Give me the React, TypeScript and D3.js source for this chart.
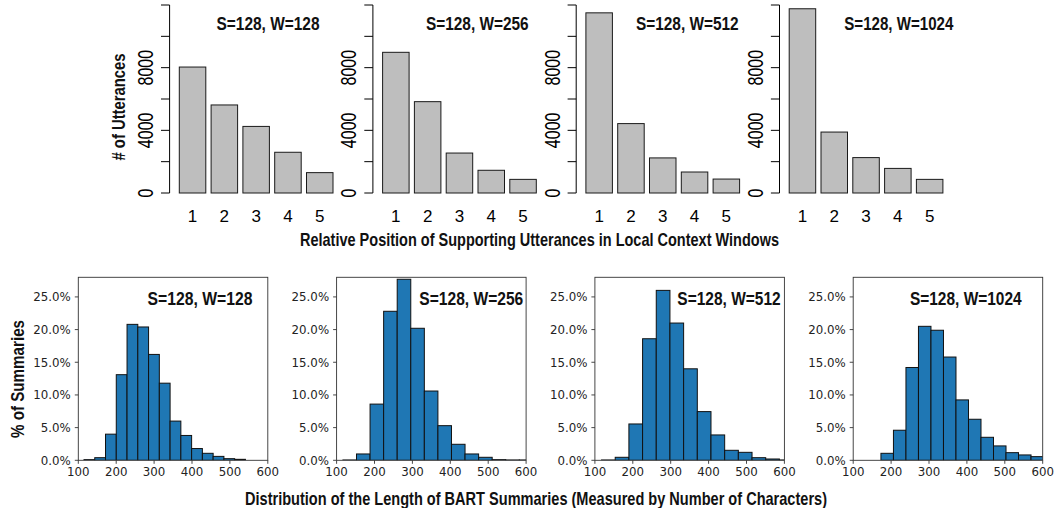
import React from "react";
import * as d3 from "d3";

// ---------- DATA ----------
const topCategories = [1, 2, 3, 4, 5];
const topTitles = ["S=128, W=128", "S=128, W=256", "S=128, W=512", "S=128, W=1024"];
const topW128 = [8040, 5620, 4250, 2600, 1300];
const topW256 = [8980, 5830, 2550, 1450, 870];
const topW512 = [11500, 4430, 2240, 1340, 890];
const topW1024 = [11760, 3890, 2260, 1570, 870];
const topYTicks = [0, 2000, 4000, 6000, 8000, 10000, 12000];
const topYTickLabels = [0, 4000, 8000];

const bottomTitles = ["S=128, W=128", "S=128, W=256", "S=128, W=512", "S=128, W=1024"];
const histStart = [115, 116.7, 117.5, 107.2];
const histWidth = [28.4, 35.8, 36.1, 33.0];
const histW128 = [0.1, 0.4, 4.0, 13.1, 20.8, 20.4, 16.2, 11.8, 6.0, 3.8, 1.8, 1.07, 0.6, 0.25, 0.15];
const histW256 = [0.05, 0.97, 8.6, 22.8, 27.7, 20.2, 10.6, 5.3, 2.45, 0.97, 0.46, 0.1, 0.05, 0.05];
const histW512 = [0.05, 0.46, 5.56, 18.6, 26.0, 21.0, 14.0, 7.45, 3.88, 1.53, 1.22, 0.4, 0.2, 0.05];
const histW1024 = [0, 0, 1.07, 4.6, 14.2, 20.5, 19.9, 15.8, 9.24, 6.28, 3.52, 2.2, 1.17, 0.82, 0.56];
const histXTicks = [100, 200, 300, 400, 500, 600];
const histYTicks = [0, 5, 10, 15, 20, 25];

const topSeries = [topW128, topW256, topW512, topW1024];
const histSeries = [histW128, histW256, histW512, histW1024];

// ---------- LAYOUT ----------
const W = 1055;
const H = 508;
const BOLDF = "'Liberation Sans', Arial, Helvetica, sans-serif";
const HELV = "'Liberation Sans', Arial, Helvetica, sans-serif";
const DEJAVU = "'DejaVu Sans', sans-serif";

const topAxisX0 = 169.6;
const topStep = 203.3;
const topY0 = 193;
const topY1 = 5;
const topTitleX = [268, 477.3, 687.3, 898.8];
const topTitleLen = [103, 102.7, 102.7, 109];

const botLeft0 = 78.3;
const botStep = 258.3;
const botW = 189.5;
const botTop = 277.3;
const botBottom = 460.3;
const botTitleX = [200, 471.3, 729, 965.8];
const botTitleLen = [105, 104, 103.3, 111.7];

function NarrowText(props: any) {
  const { len, children, ...rest } = props;
  return (
    <text
      fontFamily={BOLDF}
      fontWeight="bold"
      fill="#111"
      textLength={len}
      lengthAdjust="spacingAndGlyphs"
      {...rest}
    >
      {children}
    </text>
  );
}

function TopPanel({ i }: { i: number }) {
  const ax = topAxisX0 + i * topStep;
  const y = d3.scaleLinear().domain([0, 12000]).range([topY0, topY1]);
  const x = d3.scaleLinear().domain([0.2, 6.0]).range([ax + 9.7, ax + 163.4]);
  const vals = topSeries[i];
  return (
    <g>
      {vals.map((v, k) => {
        const u = 0.2 + k * 1.2;
        return (
          <rect
            key={k}
            x={x(u)}
            y={y(v)}
            width={x(u + 1) - x(u)}
            height={y(0) - y(v)}
            fill="#BEBEBE"
            stroke="#1a1a1a"
            strokeWidth={1}
          />
        );
      })}
      <line x1={ax} x2={ax} y1={y(0)} y2={y(12000)} stroke="#000" strokeWidth={1} />
      {topYTicks.map((t) => (
        <line key={t} x1={ax - 8.6} x2={ax} y1={y(t)} y2={y(t)} stroke="#000" strokeWidth={1} />
      ))}
      {topYTickLabels.map((t) => (
        <text
          key={t}
          transform={`translate(${ax - 16.5},${y(t)}) scale(1.35,1) rotate(-90)`}
          textAnchor="middle"
          fontFamily={HELV}
          fontSize={16}
          fill="#000"
        >
          {t}
        </text>
      ))}
      {topCategories.map((c, k) => {
        const u = 0.2 + k * 1.2 + 0.5;
        return (
          <text key={c} x={x(u)} y={221.7} textAnchor="middle" fontFamily={HELV} fontSize={17} fill="#000">
            {c}
          </text>
        );
      })}
      <NarrowText x={topTitleX[i]} y={30} textAnchor="middle" fontSize={19} len={topTitleLen[i]}>
        {topTitles[i]}
      </NarrowText>
    </g>
  );
}

function BottomPanel({ i }: { i: number }) {
  const left = botLeft0 + i * botStep;
  const x = d3.scaleLinear().domain([100, 600]).range([left, left + botW]);
  const y = d3.scaleLinear().domain([0, 28]).range([botBottom, botTop]);
  const vals = histSeries[i];
  const start = histStart[i];
  const bw = histWidth[i];
  const clipId = `clip-b${i}`;
  const fmt = d3.format(".1f");
  return (
    <g>
      <defs>
        <clipPath id={clipId}>
          <rect x={left} y={botTop} width={botW} height={botBottom - botTop} />
        </clipPath>
      </defs>
      <g clipPath={`url(#${clipId})`}>
        {vals.map((v, k) => {
          const x0 = start + k * bw;
          return (
            <rect
              key={k}
              x={x(x0)}
              y={y(v)}
              width={x(x0 + bw) - x(x0)}
              height={y(0) - y(v)}
              fill="#1f77b4"
              stroke="#111"
              strokeWidth={1}
            />
          );
        })}
      </g>
      <rect x={left} y={botTop} width={botW} height={botBottom - botTop} fill="none" stroke="#333" strokeWidth={0.9} />
      {histXTicks.map((t) => (
        <g key={t}>
          <line x1={x(t)} x2={x(t)} y1={botBottom} y2={botBottom + 3.5} stroke="#333" strokeWidth={0.9} />
          <text x={x(t)} y={476} textAnchor="middle" fontFamily={DEJAVU} fontSize={11.8} fill="#222">
            {t}
          </text>
        </g>
      ))}
      {histYTicks.map((t) => (
        <g key={t}>
          <line x1={left - 3.5} x2={left} y1={y(t)} y2={y(t)} stroke="#333" strokeWidth={0.9} />
          <text x={left - 7.5} y={y(t)} dy="0.36em" textAnchor="end" fontFamily={DEJAVU} fontSize={11.8} fill="#222">
            {fmt(t) + "%"}
          </text>
        </g>
      ))}
      <NarrowText x={botTitleX[i]} y={305} textAnchor="middle" fontSize={19} len={botTitleLen[i]}>
        {bottomTitles[i]}
      </NarrowText>
    </g>
  );
}

export default function App() {
  return (
    <svg
      width={W}
      height={H}
      viewBox={`0 0 ${W} ${H}`}
      style={{ position: "absolute", left: 0, top: 0, background: "#fff" }}
    >
      <rect x={0} y={0} width={W} height={H} fill="#fff" />
      {[0, 1, 2, 3].map((i) => (
        <TopPanel key={i} i={i} />
      ))}
      <NarrowText transform="translate(125,107) rotate(-90)" textAnchor="middle" fontSize={18.5} len={107}>
        # of Utterances
      </NarrowText>
      <NarrowText x={300} y={245.5} textAnchor="start" fontSize={18.5} len={479}>
        Relative Position of Supporting Utterances in Local Context Windows
      </NarrowText>
      {[0, 1, 2, 3].map((i) => (
        <BottomPanel key={i} i={i} />
      ))}
      <NarrowText transform="translate(24,379) rotate(-90)" textAnchor="middle" fontSize={18.5} len={118}>
        % of Summaries
      </NarrowText>
      <NarrowText x={245} y={505} textAnchor="start" fontSize={18.5} len={582}>
        Distribution of the Length of BART Summaries (Measured by Number of Characters)
      </NarrowText>
    </svg>
  );
}
